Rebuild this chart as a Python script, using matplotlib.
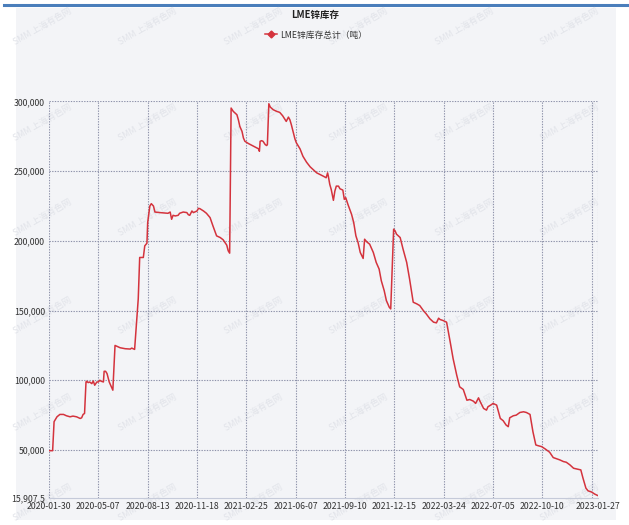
import matplotlib
matplotlib.use("Agg")
import matplotlib.pyplot as plt
from matplotlib.patches import Rectangle
from matplotlib.lines import Line2D
import numpy as np

plt.rcParams['font.family'] = ['Noto Sans CJK SC', 'DejaVu Sans']

# ---- data (trading-day index from 2020-01-30, LME zinc stocks in tonnes) ----
day = [0, 5, 7, 11, 15, 20, 24, 29, 33, 38, 43, 45, 47, 49, 51, 52, 54, 56, 59, 61,
       63, 66, 68, 70, 72, 75, 76, 78, 80, 83, 85, 88, 91, 93, 98, 105, 112, 114, 118, 121,
       123, 125, 130, 132, 135, 136, 139, 141, 144, 146, 153, 164, 167, 169, 171, 174, 178, 180, 185, 190,
       192, 194, 197, 199, 204, 206, 208, 213, 217, 222, 226, 231, 236, 240, 245, 247, 249, 251, 254, 259,
       261, 263, 266, 268, 270, 275, 282, 289, 290, 291, 293, 295, 298, 300, 301, 303, 305, 309, 314, 318,
       322, 325, 327, 330, 332, 334, 337, 339, 341, 346, 350, 355, 360, 364, 369, 378, 382, 384, 385, 387,
       389, 392, 394, 396, 399, 401, 405, 407, 409, 412, 417, 420, 423, 426, 429, 433, 435, 438, 442, 447,
       451, 455, 458, 462, 465, 469, 471, 473, 475, 477, 479, 484, 488, 493, 497, 502, 507, 511, 516, 520,
       525, 530, 534, 537, 539, 543, 548, 553, 557, 562, 566, 571, 576, 580, 585, 588, 592, 594, 599, 603,
       605, 610, 612, 617, 622, 626, 630, 633, 635, 640, 644, 649, 654, 658, 663, 667, 671, 674, 679, 684,
       690, 695, 700, 704, 709, 713, 718, 723, 727, 733, 736, 740, 743, 748, 752, 756]
stock = [49500, 49500, 70300, 73800, 75500, 75500, 74550, 73800, 74300, 73800, 72600, 73100, 75500, 76200, 98800, 99300, 98350, 98800, 97600, 99500,
         96450, 98800, 98800, 100000, 99300, 98800, 106450, 106450, 104800, 98800, 96450, 92900, 125000, 124550, 123350, 122650, 122400, 123100, 122150, 144000,
         158350, 188100, 188100, 196450, 198350, 213100, 225000, 226700, 225000, 220700, 220300, 219800, 220700, 215500, 218350, 217900, 218350, 219800, 220700, 220300,
         218800, 218350, 221450, 220300, 221450, 223350, 223100, 221450, 219800, 216700, 210700, 203600, 202400, 200800, 196950, 192900, 191200, 295300, 292900, 290500,
         286900, 282200, 278600, 273800, 271450, 269800, 267900, 266000, 264300, 271450, 271900, 271450, 269100, 268400, 269100, 298400, 296000, 294100, 292900, 292200,
         289800, 287400, 285700, 288800, 286900, 283400, 277400, 273100, 270300, 266000, 260700, 256450, 253100, 251200, 248800, 246450, 245300, 248800, 246450, 240500,
         236900, 229100, 235700, 239300, 239300, 237400, 236450, 229800, 231000, 226200, 219100, 213100, 203600, 198800, 191700, 187400, 201200, 199300, 197600, 191700,
         184550, 179800, 171450, 164300, 157200, 152400, 151200, 179800, 208400, 207200, 204800, 202400, 194100, 184550, 172600, 156000, 154800, 153600, 150000, 147600,
         144100, 141700, 141200, 144550, 143600, 142900, 141700, 127400, 115500, 103600, 95300, 93400, 85700, 86200, 85000, 83400, 87400, 85000, 79800, 78600,
         81000, 82600, 83400, 82200, 72650, 71000, 67900, 66700, 73100, 74550, 75000, 76900, 77400, 76900, 75500, 63100, 53600, 53100, 52400, 50700,
         48400, 44550, 43600, 42900, 41700, 41200, 39300, 36900, 36450, 35700, 29800, 22650, 20700, 19800, 18400, 17400]

tick_days = [0, 68, 136, 204, 272, 340, 408, 476, 544, 612, 680, 748, 756]
tick_labels = ['2020-01-30', '2020-05-07', '2020-08-13', '2020-11-18', '2021-02-25',
               '2021-06-07', '2021-09-10', '2021-12-15', '2022-03-24', '2022-07-05',
               '2022-10-10', '', '2023-01-27']
y_ticks = [15907.5, 50000, 100000, 150000, 200000, 250000, 300000]
y_labels = ['15,907.5', '50,000', '100,000', '150,000', '200,000', '250,000', '300,000']

title = 'LME锌库存'
series_name = 'LME锌库存总计（吨）'
watermark = 'SMM 上海有色网'

W, H = 629, 525
fig = plt.figure(figsize=(W / 100, H / 100), dpi=100)
fig.patch.set_facecolor('white')

panel_c = '#f3f4f7'
fig.patches.append(Rectangle((16 / W, 1 - 520 / H), 600 / W, 512 / H,
                             transform=fig.transFigure, facecolor=panel_c,
                             edgecolor='none', zorder=-3))
fig.lines.append(Line2D([4 / W, 1], [1 - 4.5 / H, 1 - 4.5 / H], transform=fig.transFigure,
                        color='#4a7ebb', lw=2.2, zorder=-2))

# watermarks
for wy in [27, 123, 218, 316, 413, 503]:
    for i in range(6):
        fig.text((42 + 105.5 * i) / W, 1 - wy / H, watermark,
                 rotation=30, ha='center', va='center', fontsize=6.3,
                 color='#e1e3e9', zorder=-1)

ax = fig.add_axes([49 / W, 1 - 497.5 / H, (597.5 - 49) / W, (497.5 - 101.5) / H])
ax.set_zorder(1)
ax.set_facecolor('none')
ax.set_xlim(0, 756)
ax.set_ylim(15907.5, 300000)

grid_c = '#8e92aa'
for t in tick_days:
    ax.axvline(t, color=grid_c, lw=0.8, ls=(0, (1.2, 1.2)), zorder=1)
for t in y_ticks[1:]:
    ax.axhline(t, color=grid_c, lw=0.8, ls=(0, (1.2, 1.2)), zorder=1)

ax.plot(day, stock, color='#d4333d', lw=1.1, zorder=3)

for s in ['top', 'right', 'left']:
    ax.spines[s].set_visible(False)
ax.spines['bottom'].set_color('#c5cad9')
ax.spines['bottom'].set_linewidth(0.8)

ax.set_xticks(tick_days)
ax.set_xticklabels(tick_labels)
ax.set_yticks(y_ticks)
ax.set_yticklabels(y_labels)
ax.tick_params(axis='both', length=0, labelsize=6.3, colors='#333333')
ax.tick_params(axis='x', pad=3)
ax.tick_params(axis='y', pad=3)

fig.text(315 / W, 1 - 15 / H, title, ha='center', va='center', fontsize=6.8,
         fontweight='bold', color='#222222')
h = Line2D([], [], color='#d4333d', lw=1.1, marker='D', markersize=3.5)
fig.legend([h], [series_name], loc='center', bbox_to_anchor=(316 / W, 1 - 35 / H),
           frameon=False, fontsize=6.3, handlelength=1.4, handletextpad=0.4,
           labelcolor='#333333')

fig.savefig('out.png', dpi=100, facecolor=fig.get_facecolor())
